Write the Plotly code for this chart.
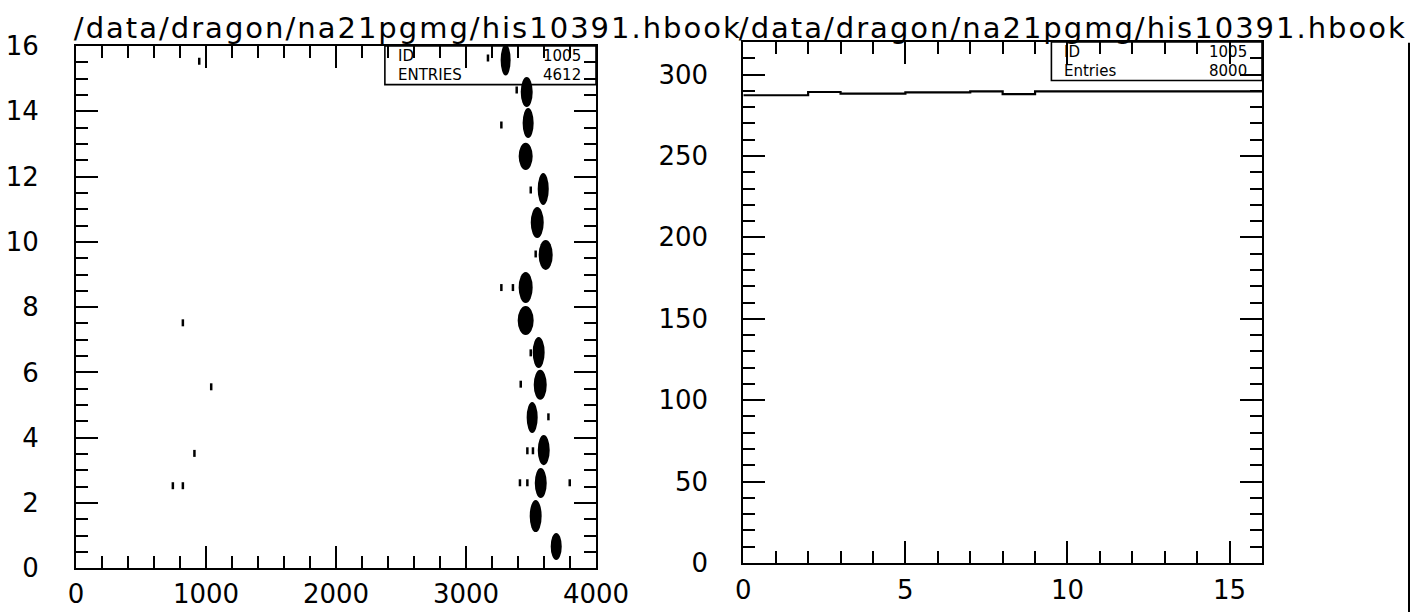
import plotly.graph_objects as go

# ---------------- data ----------------
TITLE = "/data/dragon/na21pgmg/his10391.hbook"

# Left panel: one dense cluster of entries per row (centre x, centre y, full width, full height)
blob_x = [3694, 3536, 3575, 3598, 3509, 3571, 3559, 3459, 3459, 3613, 3548, 3594, 3459, 3478, 3467, 3305]
blob_y = [0.67, 1.60, 2.61, 3.62, 4.62, 5.62, 6.61, 7.59, 8.60, 9.60, 10.59, 11.62, 12.62, 13.64, 14.59, 15.57]
blob_w = [85, 92, 92, 92, 85, 100, 92, 123, 108, 108, 100, 85, 108, 85, 92, 77]
blob_h = [0.83, 0.98, 0.92, 0.92, 0.95, 0.92, 0.95, 0.89, 0.95, 0.92, 0.95, 0.98, 0.83, 0.92, 0.92, 0.95]

# Left panel: isolated entries
out_x = [822, 1040, 911, 745, 822, 948, 3169, 3390, 3272, 3498, 3536, 3272, 3361, 3498, 3421,
         3634, 3472, 3515, 3415, 3472, 3798]
out_y = [7.52, 5.56, 3.52, 2.53, 2.53, 15.53, 15.63, 14.65, 13.58, 11.59, 9.63, 8.60, 8.60, 6.60, 5.64,
         4.64, 3.60, 3.60, 2.62, 2.62, 2.62]

# Right panel: 1-D histogram, 16 bins of width 1
hist_edges = list(range(17))
hist_vals = [287.3, 287.3, 289.3, 288.3, 288.3, 289.1, 289.1, 289.7, 288.0, 289.7,
             289.7, 289.7, 289.7, 289.7, 289.7, 289.7]

stats_left = [("ID", "1005"), ("ENTRIES", "4612")]
stats_right = [("ID", "1005"), ("Entries", "8000")]

# ---------------- figure ----------------
W, H = 1426, 612
FONT = "DejaVu Sans"
TITLE_W = 666
fig = go.Figure()

fig.add_trace(go.Scatter(
    x=out_x, y=out_y, mode="markers", xaxis="x", yaxis="y",
    marker=dict(symbol="line-ns", size=5, color="black",
                line=dict(color="black", width=2.5)),
    showlegend=False, hoverinfo="skip"))

fig.add_trace(go.Scatter(
    x=hist_edges, y=hist_vals + [hist_vals[-1]], mode="lines", line_shape="hv",
    xaxis="x2", yaxis="y2", line=dict(color="black", width=2.2),
    showlegend=False, hoverinfo="skip"))

shapes = []
# statistics boxes (below the data so entries show through)
for xr, yr in (("x domain", "y domain"), ("x2 domain", "y2 domain")):
    shapes.append(dict(type="rect", xref=xr, yref=yr, x0=0.594, x1=1.0, y0=0.926, y1=1.0,
                       fillcolor="white", line=dict(color="black", width=1.6), layer="below"))

for cx, cy, w, h in zip(blob_x, blob_y, blob_w, blob_h):
    shapes.append(dict(type="circle", xref="x", yref="y",
                       x0=cx - w / 2, x1=cx + w / 2, y0=cy - h / 2, y1=cy + h / 2,
                       fillcolor="black", line=dict(width=0), layer="above"))

# scanned page border on the right
shapes.append(dict(type="line", xref="paper", yref="paper", x0=1409 / W, x1=1409 / W,
                   y0=0, y1=0.93, line=dict(color="black", width=2)))

annotations = []
# titles (centred so that a stretched text length grows evenly)
for x0 in (74, 739):
    annotations.append(dict(text=TITLE, xref="paper", yref="paper", x=(x0 + TITLE_W / 2) / W,
                            y=1 - 28 / H, xanchor="center", yanchor="middle", showarrow=False,
                            font=dict(family=FONT, size=29, color="black")))

for (xr, yr), stats in ((("x domain", "y domain"), stats_left),
                        (("x2 domain", "y2 domain"), stats_right)):
    for (lab, val), yy in zip(stats, (0.980, 0.944)):
        annotations.append(dict(text=lab, xref=xr, yref=yr, x=0.615, y=yy, xanchor="left",
                                yanchor="middle", showarrow=False,
                                font=dict(family=FONT, size=15, color="black")))
        annotations.append(dict(text=val, xref=xr, yref=yr, x=0.975, y=yy, xanchor="right",
                                yanchor="middle", showarrow=False,
                                font=dict(family=FONT, size=15, color="black")))


def axis(domain, rng, dtick, mdtick, standoff):
    return dict(domain=domain, range=rng, dtick=dtick, tick0=0, ticks="inside", ticklen=22,
                tickwidth=2, tickcolor="black",
                minor=dict(dtick=mdtick, tick0=0, ticks="inside", ticklen=12, tickwidth=2,
                           tickcolor="black"),
                showline=True, linewidth=2, linecolor="black", mirror="ticks",
                showgrid=False, zeroline=False, ticklabelstandoff=standoff, automargin=False,
                tickfont=dict(family=FONT, size=26, color="black"), fixedrange=True)


fig.update_layout(
    width=W, height=H, autosize=False,
    margin=dict(l=0, r=0, t=0, b=0, pad=0, autoexpand=False),
    paper_bgcolor="white", plot_bgcolor="white",
    xaxis=axis([76 / W, 596 / W], [0, 4000], 1000, 200, 1),
    yaxis=axis([1 - 568.3 / H, 1 - 46 / H], [0, 16], 2, 0.5, 30),
    xaxis2=axis([743.3 / W, 1262 / W], [0, 16], 5, 1, 3),
    yaxis2=axis([1 - 563 / H, 1 - 42 / H], [0, 320], 50, 10, 28),
    shapes=shapes, annotations=annotations,
)
fig.update_layout(xaxis2=dict(anchor="y2"), yaxis2=dict(anchor="x2"))

post = """
document.documentElement.style.margin = '0';
document.body.style.margin = '0';
document.body.style.padding = '0';
document.body.style.overflow = 'hidden';
document.querySelectorAll('.annotation-text').forEach(function(t){
  if (t.textContent.indexOf('/data') === 0) {
    t.setAttribute('textLength', '%d');
    t.setAttribute('lengthAdjust', 'spacing');
  }
});
""" % TITLE_W
fig.write_html("out.html", post_script=post, config={"displayModeBar": False})
